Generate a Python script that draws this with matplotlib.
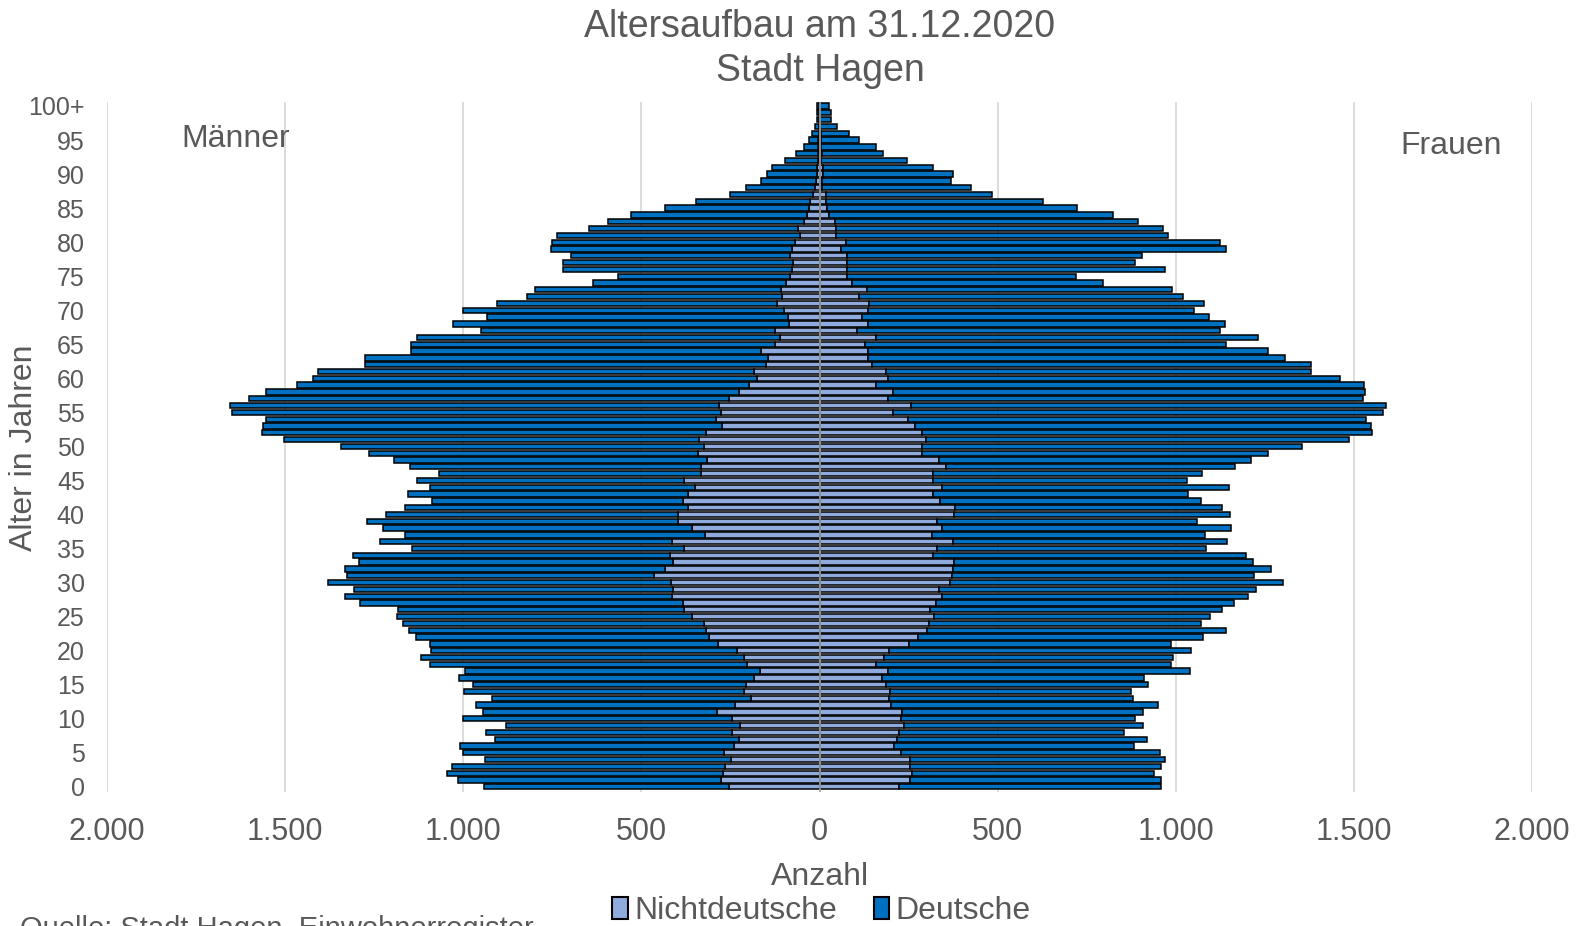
#Altersaufbau Stadt Hagen, 31.12.2020 - Bevoelkerungspyramide
#Maenner links, Frauen rechts, jeweils Nichtdeutsche innen + Deutsche aussen

import matplotlib.pyplot as plt
from matplotlib.patches import Patch
import numpy as np

plt.rcParams['font.family'] = ['Liberation Sans', 'DejaVu Sans']

#Alter 0 .. 100+ (Index = Alter)
alter = np.arange(101)

#Gesamtzahl Maenner je Altersjahr
maenner_gesamt = [942, 1014, 1046, 1033, 940, 1001, 1008, 910, 935, 881,
                  1000, 944, 963, 918, 997, 973, 1012, 996, 1092, 1120,
                  1090, 1093, 1132, 1152, 1169, 1186, 1182, 1290, 1331, 1307,
                  1379, 1327, 1333, 1293, 1310, 1145, 1233, 1163, 1226, 1269,
                  1216, 1163, 1088, 1156, 1093, 1129, 1068, 1150, 1194, 1264,
                  1343, 1502, 1566, 1561, 1553, 1650, 1656, 1602, 1553, 1466,
                  1421, 1409, 1277, 1275, 1148, 1148, 1129, 950, 1030, 932,
                  1000, 906, 821, 800, 636, 567, 720, 721, 699, 753,
                  750, 738, 647, 595, 529, 434, 346, 252, 206, 163,
                  147, 133, 98, 65, 43, 30, 22, 13, 6, 6,
                  6]
#davon Nichtdeutsche
maenner_nd = [255, 277, 270, 266, 249, 269, 239, 226, 247, 222,
              245, 287, 238, 193, 211, 205, 183, 167, 204, 211,
              232, 286, 310, 320, 324, 358, 380, 383, 413, 410,
              418, 465, 434, 412, 421, 380, 414, 321, 359, 398,
              398, 370, 383, 370, 350, 381, 332, 333, 315, 340,
              323, 337, 320, 274, 290, 277, 283, 255, 226, 198,
              175, 183, 150, 145, 163, 125, 112, 125, 85, 89,
              99, 120, 104, 109, 95, 83, 77, 75, 83, 77,
              69, 54, 61, 43, 35, 30, 26, 19, 12, 10,
              8, 6, 5, 5, 3, 3, 2, 2, 1, 1,
              1]

#Gesamtzahl Frauen je Altersjahr
frauen_gesamt = [958, 958, 939, 958, 970, 955, 883, 918, 855, 909,
                 886, 908, 949, 881, 873, 923, 910, 1040, 986, 992,
                 1042, 986, 1077, 1142, 1071, 1096, 1129, 1163, 1203, 1226,
                 1302, 1219, 1268, 1218, 1196, 1084, 1144, 1081, 1156, 1061,
                 1151, 1131, 1071, 1035, 1149, 1032, 1075, 1166, 1210, 1258,
                 1355, 1486, 1551, 1547, 1533, 1581, 1591, 1527, 1531, 1529,
                 1462, 1381, 1379, 1308, 1258, 1140, 1230, 1123, 1139, 1094,
                 1052, 1079, 1019, 990, 797, 719, 970, 887, 904, 1140,
                 1123, 978, 963, 894, 825, 724, 628, 484, 426, 368,
                 375, 318, 245, 177, 159, 111, 83, 48, 31, 31,
                 27]
#davon Nichtdeutsche
frauen_nd = [223, 254, 260, 255, 253, 229, 209, 218, 222, 237,
             229, 232, 201, 196, 199, 187, 175, 191, 159, 182,
             195, 250, 276, 303, 306, 322, 311, 326, 344, 335,
             365, 372, 374, 378, 319, 329, 375, 315, 344, 331,
             378, 381, 339, 318, 344, 318, 318, 355, 336, 288,
             288, 300, 288, 268, 248, 205, 257, 191, 206, 159,
             191, 188, 147, 137, 137, 128, 158, 105, 137, 118,
             135, 138, 112, 132, 92, 76, 78, 78, 76, 60,
             73, 47, 47, 43, 26, 22, 17, 17, 8, 8,
             10, 10, 3, 8, 5, 4, 3, 2, 1, 1,
             1]

m_nd = np.array(maenner_nd)
m_de = np.array(maenner_gesamt) - m_nd
f_nd = np.array(frauen_nd)
f_de = np.array(frauen_gesamt) - f_nd

c_nd = '#8faadc'
c_de = '#0070c0'
grau = '#595959'
h = 0.78
lw = 1.1

fig = plt.figure(figsize=(15.81, 9.26), dpi=100)
ax = fig.add_axes([0.0677, 0.145, 0.9013, 0.7445])

#Maenner (negativ)
ax.barh(alter, -m_nd, height=h, color=c_nd, edgecolor='black', linewidth=lw, zorder=3)
ax.barh(alter, -m_de, left=-m_nd, height=h, color=c_de, edgecolor='black', linewidth=lw, zorder=3)
#Frauen
ax.barh(alter, f_nd, height=h, color=c_nd, edgecolor='black', linewidth=lw, zorder=3)
ax.barh(alter, f_de, left=f_nd, height=h, color=c_de, edgecolor='black', linewidth=lw, zorder=3)

ax.axvline(0, color='#a6a6a6', lw=1.2, zorder=5)

ax.set_xlim(-2000, 2000)
ax.set_ylim(-0.72, 100.54)
xt = np.arange(-2000, 2001, 500)
ax.set_xticks(xt)
ax.set_xticklabels([f'{abs(v):,}'.replace(',', '.') for v in xt])
yt = np.arange(0, 101, 5)
ax.set_yticks(yt)
ax.set_yticklabels([str(v) for v in yt[:-1]] + ['100+'])
ax.tick_params(axis='x', length=0, pad=18, labelsize=22, labelcolor=grau)
ax.tick_params(axis='y', length=0, pad=16, labelsize=18, labelcolor=grau)
ax.grid(axis='x', color='#d9d9d9', lw=1.3, zorder=0)
ax.set_axisbelow(True)
for s in ax.spines.values():
    s.set_visible(False)

fig.text(0.5186, 0.9705, 'Altersaufbau am 31.12.2020', ha='center', va='center', fontsize=27, color=grau)
fig.text(0.5186, 0.9237, 'Stadt Hagen', ha='center', va='center', fontsize=27, color=grau)
fig.text(0.1149, 0.8497, 'Männer', ha='left', va='center', fontsize=23, color=grau)
fig.text(0.886, 0.842, 'Frauen', ha='left', va='center', fontsize=23, color=grau)
fig.text(0.0153, 0.517, 'Alter in Jahren', ha='center', va='center', rotation=90, fontsize=23, color=grau)
fig.text(0.5186, 0.0525, 'Anzahl', ha='center', va='center', fontsize=23, color=grau)
fig.text(0.0128, 1 - 915 / 926, 'Quelle: Stadt Hagen, Einwohnerregister', ha='left', va='top',
         fontsize=21, color=grau)

handles = [Patch(facecolor=c_nd, edgecolor='black', linewidth=1.5, label='Nichtdeutsche'),
           Patch(facecolor=c_de, edgecolor='black', linewidth=1.5, label='Deutsche')]
leg = fig.legend(handles=handles, loc='center', bbox_to_anchor=(0.5195, 0.016), ncol=2,
                 frameon=False, fontsize=23, handlelength=0.5, handleheight=0.65,
                 handletextpad=0.2, columnspacing=1.15, borderpad=0)
for t in leg.get_texts():
    t.set_color(grau)

plt.savefig('out.png', dpi=100)
